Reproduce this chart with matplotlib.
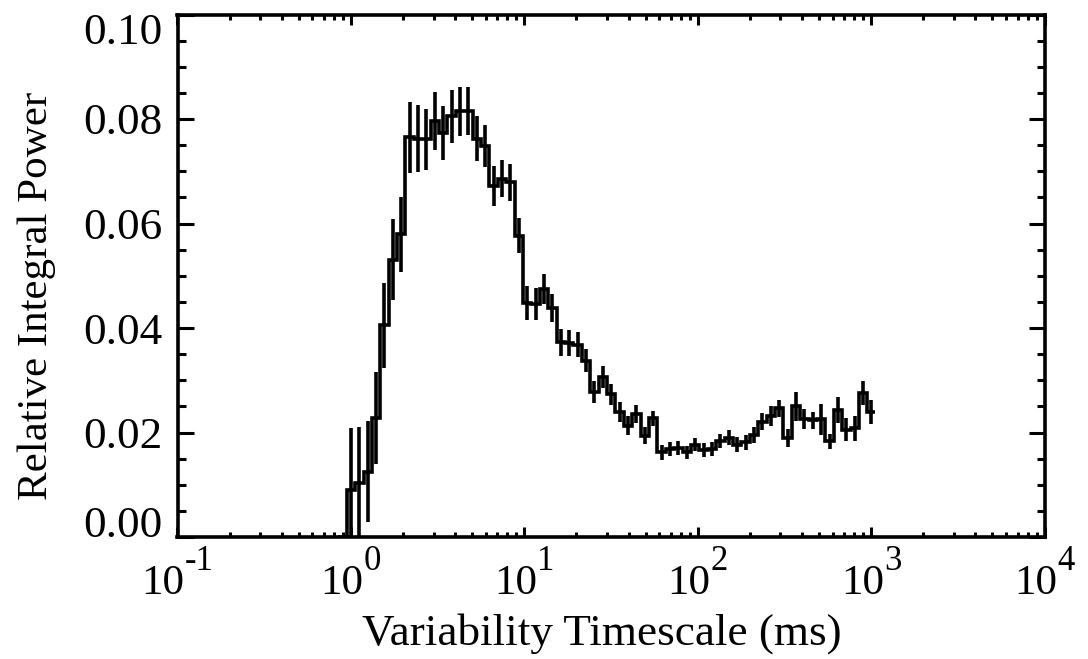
import numpy as np
import matplotlib
matplotlib.use("Agg")
import matplotlib.pyplot as plt
from matplotlib.ticker import MultipleLocator, LogLocator, NullFormatter
from matplotlib.transforms import ScaledTranslation, IdentityTransform

# ---- data ----
# bin centres: log-spaced timescales from 1 ms to 1000 ms, plus one empty bin before
timescale_ms = [0.8945, 1.000, 1.118, 1.250, 1.397, 1.562, 1.746, 1.952, 2.183, 2.440, 2.728,
                3.050, 3.409, 3.812, 4.261, 4.764, 5.326, 5.954, 6.657, 7.442, 8.320,
                9.302, 10.40, 11.63, 13.00, 14.53, 16.25, 18.16, 20.30, 22.70, 25.38,
                28.37, 31.72, 35.46, 39.65, 44.32, 49.55, 55.40, 61.93, 69.24, 77.41,
                86.54, 96.75, 108.2, 120.9, 135.2, 151.1, 169.0, 188.9, 211.2, 236.1,
                264.0, 295.1, 329.9, 368.8, 412.4, 461.0, 515.4, 576.2, 644.2, 720.2,
                805.2, 900.2, 1000.0]
power = [0.0, 0.0090, 0.0104, 0.0125, 0.0227, 0.0405, 0.0531, 0.0579, 0.0765, 0.0762, 0.0761,
         0.0796, 0.0773, 0.0805, 0.0815, 0.0815, 0.0762, 0.0748, 0.0672, 0.0686, 0.0679,
         0.0577, 0.0448, 0.0446, 0.0475, 0.0438, 0.0373, 0.0372, 0.0368, 0.0337, 0.0278,
         0.0306, 0.0273, 0.0240, 0.0213, 0.0236, 0.0194, 0.0227, 0.0162, 0.0168, 0.0170,
         0.0162, 0.0177, 0.0166, 0.0168, 0.0184, 0.0190, 0.0177, 0.0181, 0.0195, 0.0221,
         0.0232, 0.0246, 0.0189, 0.0250, 0.0226, 0.0223, 0.0225, 0.0183, 0.0243, 0.0205,
         0.0208, 0.0276, 0.0240]
power_err = [0.0, 0.0118, 0.0107, 0.0097, 0.0088, 0.0082, 0.0077, 0.0072, 0.0068, 0.0064, 0.0059,
             0.0056, 0.0052, 0.0050, 0.0047, 0.0046, 0.0043, 0.0040, 0.0038, 0.0036, 0.0035,
             0.0034, 0.0032, 0.0030, 0.0029, 0.0027, 0.0026, 0.0025, 0.0024, 0.0022, 0.0021,
             0.0021, 0.0020, 0.0019, 0.0018, 0.0017, 0.0016, 0.0015, 0.0015, 0.0013, 0.0013,
             0.0013, 0.0013, 0.0013, 0.0013, 0.0013, 0.0014, 0.0014, 0.0015, 0.0015, 0.0017,
             0.0019, 0.0016, 0.0017, 0.0028, 0.0019, 0.0017, 0.0029, 0.0015, 0.0024, 0.0022,
             0.0024, 0.0023, 0.0023]

x_ticks = [0.1, 1, 10, 100, 1000, 10000]
x_tick_base = ["10", "10", "10", "10", "10", "10"]
x_tick_exp = ["-1", "0", "1", "2", "3", "4"]
y_ticks = [0.00, 0.02, 0.04, 0.06, 0.08, 0.10]
y_ticklabels = ["0.00", "0.02", "0.04", "0.06", "0.08", "0.10"]
x_label = "Variability Timescale (ms)"
y_label = "Relative Integral Power"

# ---- style ----
plt.rcParams["font.family"] = ["Liberation Serif", "DejaVu Serif"]

LW = 2.6
fig = plt.figure(figsize=(10.88, 6.59), dpi=100)
W, H = 1088.0, 659.0
ax = fig.add_axes([177.5 / W, 1 - 537 / H, (1044.5 - 177.5) / W, (537 - 14.5) / H])

x = np.array(timescale_ms)
y = np.array(power)
e = np.array(power_err)
lx = np.log10(x)
mid = (lx[:-1] + lx[1:]) / 2
edges = np.concatenate([[lx[0] - (lx[1] - lx[0]) / 2], mid, [lx[-1] + (lx[-1] - lx[-2]) / 2]])
edges = 10 ** edges

ax.stairs(y, edges, color="k", lw=LW, baseline=None)
ax.errorbar(x[1:], y[1:], yerr=e[1:], fmt="none", ecolor="k", elinewidth=LW, capsize=0)

ax.set_xscale("log")
ax.set_xlim(0.1, 1e4)
ax.set_ylim(0, 0.10)

ax.set_xticks(x_ticks)
ax.set_xticklabels(x_tick_base)
ax.xaxis.set_minor_locator(LogLocator(base=10, subs=np.arange(2, 10)))
ax.xaxis.set_minor_formatter(NullFormatter())
ax.set_yticks(y_ticks)
ax.set_yticklabels(y_ticklabels)
ax.yaxis.set_minor_locator(MultipleLocator(0.005))

for s in ax.spines.values():
    s.set_linewidth(LW)

ax.tick_params(axis="x", which="major", direction="in", length=7.0, width=2.2,
               top=True, labelsize=31, pad=19.5)
ax.tick_params(axis="x", which="minor", direction="in", length=3.3, width=2.2, top=True)
ax.tick_params(axis="y", which="major", direction="in", length=11.8, width=2.2,
               right=True, labelsize=32.5, pad=10.5)
ax.tick_params(axis="y", which="minor", direction="in", length=6.0, width=2.2, right=True)

# end labels of the y axis sit inside the axis range, as in the reference
ylabs = ax.get_yticklabels()
ylabs[0].set_transform(ylabs[0].get_transform() + ScaledTranslation(0, 15.5 / 100, fig.dpi_scale_trans))
ylabs[-1].set_transform(ylabs[-1].get_transform() + ScaledTranslation(0, -14 / 100, fig.dpi_scale_trans))

ax.set_xlabel(x_label, fontsize=32.5)
ax.xaxis.label.set_va("baseline")
ax.xaxis.set_label_coords((602 - 177.5) / 867, (537 - 645) / 522.5)
ax.set_ylabel(y_label, fontsize=31)
ax.yaxis.label.set_va("baseline")
ax.yaxis.set_label_coords((47 - 177.5) / 867, (537 - 296) / 522.5)

# exponents of the x tick labels (large superscripts, IDL style)
fig.canvas.draw()
renderer = fig.canvas.get_renderer()
xlabs = [t for t in ax.get_xticklabels()]
exp_texts = []
for tick, ex in zip(x_ticks, x_tick_exp):
    t = ax.text(tick, 0, ex, fontsize=25, ha="left", va="top",
                transform=ax.get_xaxis_transform())
    exp_texts.append(t)
for lab, t in zip(xlabs, exp_texts):
    we = t.get_window_extent(renderer).width
    wb = lab.get_window_extent(renderer).width
    lab.set_transform(lab.get_transform() + ScaledTranslation(-we / 2 / 100, 0, fig.dpi_scale_trans))
    t.set_transform(t.get_transform() + ScaledTranslation((wb / 2 - we / 2) / 100, -8 / 100,
                                                          fig.dpi_scale_trans))

fig.savefig("out.png", dpi=100)
